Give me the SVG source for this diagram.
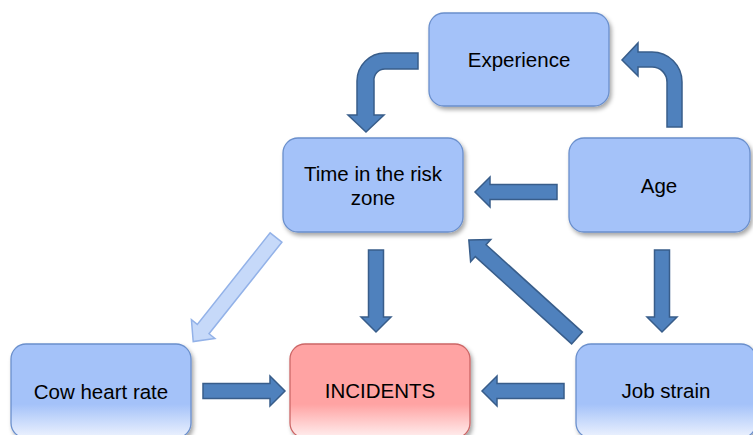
<svg xmlns="http://www.w3.org/2000/svg" width="753" height="435" viewBox="0 0 753 435">
<style>
.box{fill:#a4c2f9;stroke:#6a8fcc;stroke-width:1.3}
.bbox{fill:url(#gb);stroke:#6a8fcc;stroke-width:1.3}
.rbox{fill:url(#gr);stroke:#cc6666;stroke-width:1.3}
.arr{fill:#4f81bd;stroke:#385d8a;stroke-width:1.5;stroke-linejoin:miter}
.larr{fill:#c6d9f9;stroke:#93b2e8;stroke-width:1.5}
text{font-family:"Liberation Sans",Arial,sans-serif;font-size:20.5px;fill:#000;text-anchor:middle}
</style>
<defs>
<filter id="sh" x="-10%" y="-10%" width="125%" height="130%">
<feDropShadow dx="2" dy="3" stdDeviation="2" flood-color="#000" flood-opacity="0.35"/>
</filter>
<linearGradient id="gb" x1="0" y1="0" x2="0" y2="1">
<stop offset="0" stop-color="#a4c2f9"/>
<stop offset="0.64" stop-color="#a4c2f9"/>
<stop offset="1" stop-color="#eef3fe"/>
</linearGradient>
<linearGradient id="gr" x1="0" y1="0" x2="0" y2="1">
<stop offset="0" stop-color="#ffa3a3"/>
<stop offset="0.64" stop-color="#ffa3a3"/>
<stop offset="1" stop-color="#fff0f0"/>
</linearGradient>
<path id="a82" d="M0,-7.5 H67 V-15 L82,0 L67,15 V7.5 H0 Z"/>
</defs>

<g id="connectors">
<path class="arr" d="M418,53 H385 A28,28 0 0 0 357,81 V115 H348 L366,132 L384,115 H374 V81 A11,11 0 0 1 385,69 H418 Z"/>
<path class="arr" d="M682,127 V82 A30,30 0 0 0 652,52 H638 V43 L622,60 L638,76 V67 H652 A15,15 0 0 1 667,82 V127 Z"/>
<use href="#a82" class="arr" transform="translate(557,192) rotate(180)"/>
<use href="#a82" class="arr" transform="translate(376,250) rotate(90)"/>
<use href="#a82" class="arr" transform="translate(662,250) rotate(90)"/>
<use href="#a82" class="arr" transform="translate(203,391)"/>
<use href="#a82" class="arr" transform="translate(564,391) rotate(180)"/>
<path class="arr" d="M0,-8 H130 V-15 L146,0 L130,15 V8 H0 Z" transform="translate(577,338) rotate(222.2)"/>
<path class="larr" d="M0,-7.5 H117 V-15 L133,0 L117,15 V7.5 H0 Z" transform="translate(276,237.5) rotate(128.5)"/>
</g>

<g id="experience">
<rect class="box" x="429" y="13" width="180" height="93" rx="15" filter="url(#sh)"/>
<text x="519" y="67">Experience</text>
</g>
<g id="time">
<rect class="box" x="283" y="138" width="180" height="94" rx="15" filter="url(#sh)"/>
<text x="373" y="181">Time in the risk</text>
<text x="373" y="205">zone</text>
</g>
<g id="age">
<rect class="box" x="569" y="138" width="181" height="94" rx="15" filter="url(#sh)"/>
<text x="659" y="193">Age</text>
</g>
<g id="cow">
<rect class="bbox" x="11" y="344" width="180" height="94" rx="15" filter="url(#sh)"/>
<text x="101" y="399">Cow heart rate</text>
</g>
<g id="incidents">
<rect class="rbox" x="290" y="344" width="180" height="94" rx="15" filter="url(#sh)"/>
<text x="380" y="398">INCIDENTS</text>
</g>
<g id="jobstrain">
<rect class="bbox" x="576" y="344" width="180" height="94" rx="15" filter="url(#sh)"/>
<text x="666" y="398">Job strain</text>
</g>
</svg>
